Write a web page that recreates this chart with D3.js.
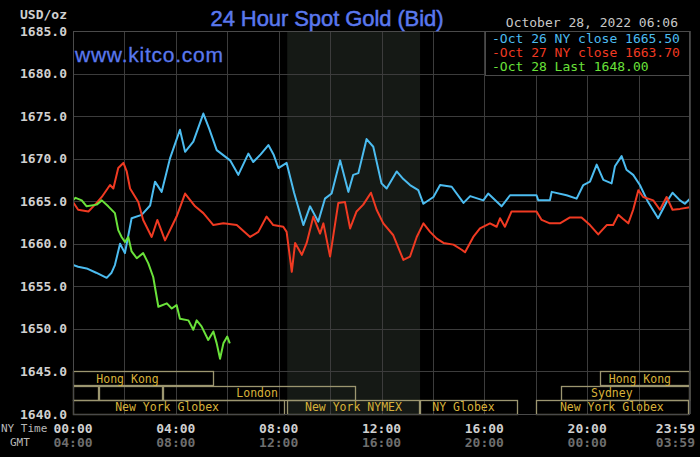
<!DOCTYPE html>
<html><head><meta charset="utf-8">
<script src="https://cdn.jsdelivr.net/npm/d3@7/dist/d3.min.js"></script>
<style>html,body{margin:0;padding:0;background:#000;}svg{display:block;}</style>
</head><body>
<script>
// ---- data ----
const oct26Hours = [0,0.2,0.53,0.9,1.31,1.5,1.63,1.83,2.02,2.28,2.67,3.0,3.19,3.45,3.77,4.16,4.36,4.68,5.07,5.3,5.59,6.11,6.43,6.82,7.01,7.3,7.6,7.8,7.99,8.31,8.6,8.96,9.22,9.54,9.8,10.06,10.39,10.71,10.9,11.1,11.42,11.68,12.0,12.2,12.59,12.85,13.11,13.43,13.63,14.02,14.28,14.73,15.19,15.45,15.96,16.15,16.67,17.0,18.03,18.1,18.55,18.62,19.2,19.59,19.85,20.11,20.37,20.63,20.95,21.08,21.34,21.53,21.79,22.05,22.37,22.76,23.09,23.32,23.61,23.8,24];
const oct26Values = [1657.5,1657.3,1657.1,1656.6,1656.0,1656.6,1657.5,1660.0,1658.9,1663.0,1663.4,1664.5,1667.3,1666.1,1670.0,1673.4,1670.8,1672.0,1675.3,1673.5,1671.0,1669.8,1668.1,1670.6,1669.6,1670.5,1671.6,1670.5,1668.9,1669.5,1666.0,1662.2,1664.4,1662.6,1665.3,1665.9,1669.8,1666.1,1668.1,1668.3,1672.3,1671.4,1667.1,1666.5,1668.5,1667.6,1666.9,1666.3,1664.7,1665.5,1666.9,1666.7,1664.8,1665.6,1665.1,1665.9,1664.4,1665.7,1665.7,1665.1,1665.1,1666.1,1665.7,1665.3,1666.9,1667.3,1669.3,1667.5,1667.1,1669.1,1670.3,1668.7,1668.1,1666.9,1664.9,1663.0,1664.9,1666.0,1665.1,1664.7,1665.3];

const oct27Hours = [0,0.2,0.6,0.92,1.12,1.44,1.57,1.76,1.96,2.09,2.22,2.54,2.73,3.06,3.28,3.58,4.03,4.36,4.75,5.07,5.46,5.85,6.37,6.89,7.21,7.53,7.79,8.18,8.31,8.51,8.64,8.9,9.09,9.35,9.61,9.74,10.0,10.32,10.58,10.78,11.03,11.29,11.59,11.81,12.07,12.46,12.85,13.11,13.37,13.63,13.89,14.15,14.41,14.8,15.12,15.25,15.57,15.83,16.22,16.48,16.61,16.8,17.06,18.03,18.23,18.55,18.94,19.33,19.78,20.11,20.43,20.76,21.01,21.21,21.4,21.6,21.79,21.99,22.18,22.57,22.83,23.09,23.32,23.61,24];
const oct27Values = [1664.9,1664.0,1663.8,1664.8,1665.5,1666.9,1666.5,1668.9,1669.5,1668.5,1666.5,1664.9,1662.8,1660.8,1662.8,1660.4,1663.2,1665.9,1664.4,1663.6,1662.2,1662.4,1662.2,1660.8,1661.4,1663.2,1662.2,1662.0,1661.4,1656.7,1660.1,1658.7,1660.1,1663.2,1661.2,1662.4,1658.5,1664.8,1664.9,1661.8,1663.8,1664.6,1666.0,1664.0,1662.4,1661.0,1658.1,1658.5,1660.8,1662.4,1661.4,1660.6,1660.1,1659.9,1659.3,1659.0,1660.8,1661.8,1662.4,1662.0,1663.0,1662.0,1663.8,1663.8,1662.8,1662.4,1662.4,1663.1,1663.1,1662.2,1661.1,1662.2,1662.2,1663.4,1662.9,1662.4,1664.0,1666.3,1665.5,1665.1,1664.0,1665.5,1664.0,1664.1,1664.3];

const oct28Hours = [0,0.1,0.34,0.53,0.92,1.12,1.37,1.63,1.76,1.89,2.02,2.15,2.28,2.48,2.73,2.93,3.12,3.32,3.65,3.84,4.03,4.16,4.49,4.68,4.81,5.0,5.26,5.46,5.59,5.72,5.85,6.0,6.1];
const oct28Values = [1665.1,1665.4,1665.1,1664.4,1664.6,1665.1,1664.4,1663.6,1661.6,1660.8,1660.2,1660.8,1659.1,1658.3,1658.9,1657.7,1656.1,1652.6,1653.0,1652.4,1652.8,1651.2,1651.0,1649.9,1651.0,1650.3,1648.7,1649.7,1648.3,1646.5,1648.3,1649.1,1648.3];

const seriesNames = ["Oct 26 NY close 1665.50","Oct 27 NY close 1663.70","Oct 28 Last 1648.00"];
const seriesColors = ["#4cbcf0","#f03a22","#6ae23a"];

const yTicks = [1640,1645,1650,1655,1660,1665,1670,1675,1680,1685];
const xTickHours = [0,4,8,12,16,20,24];
const nyTimeLabels = ["00:00","04:00","08:00","12:00","16:00","20:00","23:59"];
const gmtLabels = ["04:00","08:00","12:00","16:00","20:00","00:00","03:59"];

// trading sessions: row, start hour, end hour, label, label centre hour
const sessionRows = [0,0,1,1,1,2,2,2,2,1];
const sessionStarts = [0,20.5,0,1,3.5,0,8.33,13.5,18,19];
const sessionEnds = [5.5,24,1,3.5,11,8.25,13.5,17.3,23.95,24];
const sessionLabels = ["Hong Kong","Hong Kong","","","London","New York Globex","New York NYMEX","NY Globex","New York Globex","Sydney"];
const sessionLabelAt = [2.12,22.05,0,0,7.16,3.66,10.91,15.19,20.96,20.96];

const comexStart = 8.333, comexEnd = 13.5;

// ---- drawing ----
const W = 700, H = 457;
const L = 73, R = 690, T = 31, B = 414;
const svg = d3.select("body").append("svg").attr("width", W).attr("height", H)
  .style("background", "#000");

const x = d3.scaleLinear().domain([0,24]).range([L,R]);
const y = d3.scaleLinear().domain([1640,1685]).range([B,T]);
const mono = "'DejaVu Sans Mono', 'Liberation Mono', monospace";

// shaded comex
svg.append("rect").attr("x", x(comexStart)).attr("y", T)
  .attr("width", x(comexEnd) - x(comexStart)).attr("height", B - T)
  .attr("fill", "#151915");

// grid
const grid = svg.append("g").attr("stroke", "#3c3c3c").attr("stroke-width", 1);
grid.selectAll(".h").data(yTicks).join("line")
  .attr("x1", L).attr("x2", R)
  .attr("y1", d => Math.round(y(d)) + 0.5).attr("y2", d => Math.round(y(d)) + 0.5);
grid.selectAll(".v").data(d3.range(0, 25, 2)).join("line")
  .attr("y1", T).attr("y2", B)
  .attr("x1", d => Math.round(x(d)) + 0.5).attr("x2", d => Math.round(x(d)) + 0.5);

// sessions
const rowH = (y(1640) - y(1645)) / 3;
const sess = svg.append("g");
sessionStarts.forEach((s, i) => {
  const r = sessionRows[i];
  const y0 = y(1645) + r * rowH;
  sess.append("rect")
    .attr("x", Math.round(x(s)) + 0.5).attr("y", Math.round(y0) + 0.5)
    .attr("width", Math.round(x(sessionEnds[i]) - x(s)) - 1)
    .attr("height", Math.round(rowH))
    .attr("fill", "none").attr("stroke", "#9c9670").attr("stroke-width", 1.3);
  if (sessionLabels[i]) {
    sess.append("text").attr("x", x(sessionLabelAt[i])).attr("y", y0 + rowH / 2 + 4)
      .attr("text-anchor", "middle").attr("fill", "#d8b23a")
      .attr("font-family", mono).attr("font-size", 11.5).text(sessionLabels[i]);
  }
});

// lines
svg.append("clipPath").attr("id", "pc").append("rect")
  .attr("x", L).attr("y", T).attr("width", R - L).attr("height", B - T);
const line = d3.line().x(d => x(d[0])).y(d => y(d[1]));
const allSeries = [
  d3.zip(oct26Hours, oct26Values),
  d3.zip(oct27Hours, oct27Values),
  d3.zip(oct28Hours, oct28Values)
];
allSeries.forEach((s, i) => {
  svg.append("path").datum(s).attr("d", line).attr("fill", "none")
    .attr("stroke", seriesColors[i]).attr("stroke-width", 2)
    .attr("stroke-linejoin", "round").attr("clip-path", "url(#pc)");
});

// frame
svg.append("rect").attr("x", L + 0.5).attr("y", T + 0.5).attr("width", R - L - 1).attr("height", B - T)
  .attr("fill", "none").attr("stroke", "#4a4a4a");

// y labels
svg.append("g").selectAll("text").data(yTicks).join("text")
  .attr("x", 67).attr("y", d => y(d) + 4.5).attr("text-anchor", "end")
  .attr("fill", "#d0d0d0").attr("font-family", mono).attr("font-weight", "bold")
  .attr("font-size", 13).text(d => d.toFixed(1));
svg.append("text").attr("x", 67).attr("y", 19).attr("text-anchor", "end")
  .attr("fill", "#d0d0d0").attr("font-family", mono).attr("font-weight", "bold")
  .attr("font-size", 13).text("USD/oz");

// x labels
xTickHours.forEach((h, i) => {
  const last = i === xTickHours.length - 1;
  const xp = last ? x(h) + 5 : x(h);
  svg.append("text").attr("x", xp).attr("y", 433).attr("text-anchor", last ? "end" : "middle")
    .attr("fill", "#d0d0d0").attr("font-family", mono).attr("font-weight", "bold")
    .attr("font-size", 13).text(nyTimeLabels[i]);
  svg.append("text").attr("x", xp).attr("y", 447).attr("text-anchor", last ? "end" : "middle")
    .attr("fill", "#6e6e6e").attr("font-family", mono).attr("font-weight", "bold")
    .attr("font-size", 13).text(gmtLabels[i]);
});
svg.append("text").attr("x", 1).attr("y", 432).attr("fill", "#b8b8b8")
  .attr("font-family", mono).attr("font-size", 11).text("NY Time");
svg.append("text").attr("x", 10).attr("y", 446).attr("fill", "#b8b8b8")
  .attr("font-family", mono).attr("font-size", 11).text("GMT");

// titles
svg.append("text").attr("x", 327).attr("y", 25.5).attr("text-anchor", "middle")
  .attr("fill", "#5a78ee").attr("stroke", "#5a78ee").attr("stroke-width", 0.5)
  .attr("font-family", "'Liberation Sans', Arial, sans-serif")
  .attr("font-size", 22).attr("textLength", 233).text("24 Hour Spot Gold (Bid)");
svg.append("text").attr("x", 75).attr("y", 62).attr("fill", "#5a78ee")
  .attr("stroke", "#5a78ee").attr("stroke-width", 0.3)
  .attr("font-family", "'Liberation Sans', Arial, sans-serif").attr("font-size", 21)
  .attr("textLength", 148).text("www.kitco.com");
svg.append("text").attr("x", 678).attr("y", 27).attr("text-anchor", "end")
  .attr("fill", "#c8c8c8").attr("font-family", mono).attr("font-size", 13)
  .text("October 28, 2022 06:06");

// legend
svg.append("rect").attr("x", 485.5).attr("y", T + 0.5).attr("width", 204).attr("height", 44)
  .attr("fill", "#000").attr("stroke", "#4a4a4a");
seriesNames.forEach((n, i) => {
  svg.append("text").attr("x", 492).attr("y", 42.5 + i * 14).attr("fill", seriesColors[i])
    .attr("font-family", mono).attr("font-size", 13).text("-" + n);
});
</script>
</body></html>
